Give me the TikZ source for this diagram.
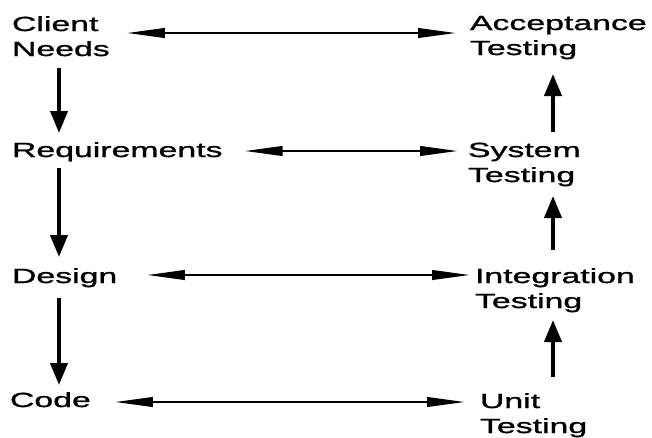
\documentclass[tikz,border=0pt]{standalone}
\usepackage{fontspec}
\setmainfont{Liberation Sans}[FakeStretch=1.65,FakeBold=1.2]
\usetikzlibrary{arrows.meta}
\begin{document}
\begin{tikzpicture}[x=1pt,y=-1pt,
  label/.style={anchor=base west,inner sep=0pt,outer sep=0pt,
    font=\fontsize{20.5}{25}\selectfont},
  harrow/.style={line width=2.4pt,
    {Triangle[length=38pt,width=9.5pt]}-{Triangle[length=38pt,width=9.5pt]}},
  varrow/.style={line width=4pt,-{Triangle[length=22pt,width=17pt]}}]
\useasboundingbox (0,0) rectangle (652,437);

% development stages (left column)
\node[label] (cn) at (12,31)  {\begin{tabular}[t]{@{}l@{}}Client\\Needs\end{tabular}};
\node[label] (rq) at (12,157) {\begin{tabular}[t]{@{}l@{}}Requirements\end{tabular}};
\node[label] (ds) at (12,283) {\begin{tabular}[t]{@{}l@{}}Design\end{tabular}};
\node[label] (cd) at (10,407) {\begin{tabular}[t]{@{}l@{}}Code\end{tabular}};

% testing stages (right column)
\node[label] (at) at (470,30)  {\begin{tabular}[t]{@{}l@{}}Acceptance\\Testing\end{tabular}};
\node[label] (sy) at (468,157) {\begin{tabular}[t]{@{}l@{}}System\\Testing\end{tabular}};
\node[label] (it) at (475,283) {\begin{tabular}[t]{@{}l@{}}Integration\\Testing\end{tabular}};
\node[label] (ut) at (480,408) {\begin{tabular}[t]{@{}l@{}}Unit\\Testing\end{tabular}};

% column and row guides for the connectors
\coordinate (lcol) at (59,0);
\coordinate (rcol) at (553,0);
\coordinate (row1) at (0,33);
\coordinate (row2) at (0,151);
\coordinate (row3) at (0,275);
\coordinate (row4) at (0,402);

% downward flow of development
\draw[varrow,shorten <=4.5pt,shorten >=6.5pt] (cn.south -| lcol) -- (rq.north -| lcol);
\draw[varrow,shorten <=3.5pt,shorten >=8.5pt] (rq.south -| lcol) -- (ds.north -| lcol);
\draw[varrow,shorten <=7.5pt,shorten >=4.5pt] (ds.south -| lcol) -- (cd.north -| lcol);

% upward flow of testing
\draw[varrow,shorten <=13.5pt,shorten >=4.5pt] (ut.north -| rcol) -- (it.south -| rcol);
\draw[varrow,shorten <=15.5pt,shorten >=6.5pt] (it.north -| rcol) -- (sy.south -| rcol);
\draw[varrow,shorten <=7.5pt,shorten >=11.5pt] (sy.north -| rcol) -- (at.south -| rcol);

% each stage paired with its test level
\draw[harrow,shorten <=17pt,shorten >=14pt] (cn.east |- row1) -- (at.west |- row1);
\draw[harrow,shorten <=22pt,shorten >=10pt] (rq.east |- row2) -- (sy.west |- row2);
\draw[harrow,shorten <=29.7pt,shorten >=5pt] (ds.east |- row3) -- (it.west |- row3);
\draw[harrow,shorten <=24pt,shorten >=15pt] (cd.east |- row4) -- (ut.west |- row4);
\end{tikzpicture}
\end{document}
